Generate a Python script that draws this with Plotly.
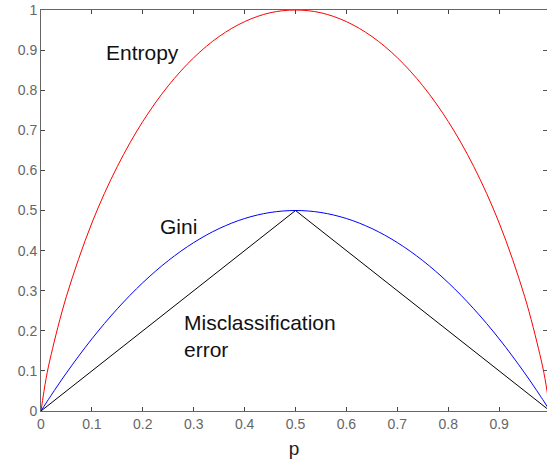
import plotly.graph_objects as go

p_vals = [0, 0.01, 0.02, 0.05, 0.1, 0.15, 0.2, 0.25, 0.3, 0.35, 0.4, 0.45, 0.5,
          0.55, 0.6, 0.65, 0.7, 0.75, 0.8, 0.85, 0.9, 0.95, 0.98, 0.99, 1.0]
entropy = [0, 0.081, 0.141, 0.286, 0.469, 0.610, 0.722, 0.811, 0.881, 0.934, 0.971, 0.993, 1.0,
           0.993, 0.971, 0.934, 0.881, 0.811, 0.722, 0.610, 0.469, 0.286, 0.141, 0.081, 0]
gini = [0, 0.0198, 0.0392, 0.095, 0.18, 0.255, 0.32, 0.375, 0.42, 0.455, 0.48, 0.495, 0.5,
        0.495, 0.48, 0.455, 0.42, 0.375, 0.32, 0.255, 0.18, 0.095, 0.0392, 0.0198, 0]
mis_p = [0, 0.5, 1.0]
mis_err = [0, 0.5, 0]

x_ticks = [0, 0.1, 0.2, 0.3, 0.4, 0.5, 0.6, 0.7, 0.8, 0.9]
x_ticklabels = ["0", "0.1", "0.2", "0.3", "0.4", "0.5", "0.6", "0.7", "0.8", "0.9"]
y_ticks = [0, 0.1, 0.2, 0.3, 0.4, 0.5, 0.6, 0.7, 0.8, 0.9, 1.0]
y_ticklabels = ["0", "0.1", "0.2", "0.3", "0.4", "0.5", "0.6", "0.7", "0.8", "0.9", "1"]

fig = go.Figure()
fig.add_trace(go.Scatter(x=p_vals, y=entropy, mode="lines",
                         line=dict(color="#ff0000", width=1, shape="spline"), name="Entropy"))
fig.add_trace(go.Scatter(x=p_vals, y=gini, mode="lines",
                         line=dict(color="#0000ff", width=1, shape="spline"), name="Gini"))
fig.add_trace(go.Scatter(x=mis_p, y=mis_err, mode="lines",
                         line=dict(color="#000000", width=1), name="Misclassification error"))
# invisible trace to activate right-side tick axis
fig.add_trace(go.Scatter(x=[0], y=[0], yaxis="y2", mode="markers",
                         marker=dict(opacity=0), hoverinfo="skip", showlegend=False))

font_main = "Liberation Sans, Arial, sans-serif"
ann_font = dict(family=font_main, size=21, color="#111111")
fig.add_annotation(x=0.124, y=0.895, text="Entropy", showarrow=False, xanchor="left",
                   yanchor="middle", font=ann_font)
fig.add_annotation(x=0.23, y=0.461, text="Gini", showarrow=False, xanchor="left",
                   yanchor="middle", font=ann_font)
fig.add_annotation(x=0.277, y=0.187, text="Misclassification<br>error", showarrow=False,
                   xanchor="left", yanchor="middle", align="left", font=ann_font)

fig.update_layout(
    width=547, height=466,
    margin=dict(l=41, r=0, t=10, b=55),
    paper_bgcolor="white", plot_bgcolor="white",
    showlegend=False,
    font=dict(family=font_main, size=14, color="#666666"),
    yaxis2=dict(overlaying="y", side="right", range=[0, 1], tickvals=y_ticks,
                showticklabels=False, ticks="inside", ticklen=4, tickcolor="#555555",
                showgrid=False, zeroline=False, showline=False),
)
fig.update_xaxes(range=[0, 0.994], tickvals=x_ticks, ticktext=x_ticklabels,
                 showgrid=False, zeroline=False, showline=True, linecolor="#666666", linewidth=1,
                 mirror="ticks", ticks="inside", ticklen=4, tickcolor="#444444",
                 title=dict(text="p", font=dict(size=19, color="#222222"), standoff=10))
fig.layout.yaxis.update(range=[0, 1], tickvals=y_ticks, ticktext=y_ticklabels,
                        showgrid=False, zeroline=False, showline=True, linecolor="#666666",
                        linewidth=1, mirror=False, ticks="inside", ticklen=4, tickcolor="#444444")

fig.write_html(
    "out.html",
    config={"displayModeBar": False},
    post_script="document.body.style.margin='0';document.body.style.overflow='hidden';",
)
